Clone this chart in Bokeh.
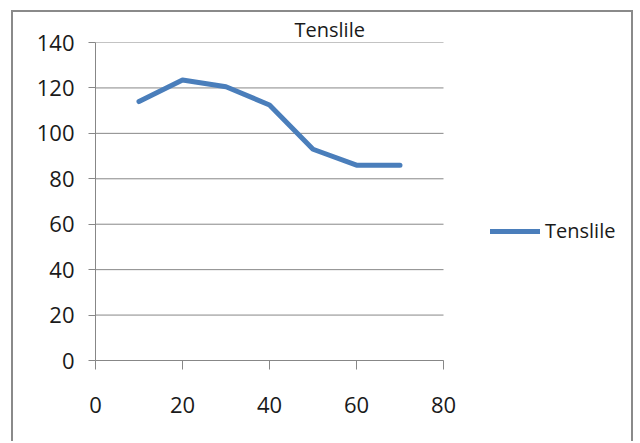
from bokeh.plotting import figure
from bokeh.models import Range1d, FixedTicker, Legend, LegendItem, Title
from bokeh.embed import file_html
from bokeh.resources import INLINE

# data
x_vals = [10, 20, 30, 40, 50, 60, 70]
tensile = [114, 123.5, 120.5, 112.5, 93, 86, 86]
series_name = "Tenslile"
chart_title = "Tenslile"
x_ticks = [0, 20, 40, 60, 80]
y_ticks = [0, 20, 40, 60, 80, 100, 120, 140]

FONT = "Open Sans"
GRAY = "#878787"
BORDER = "2px solid #8a8a8a"

# layout geometry (pixels)
FRAME_LEFT = 82
FRAME_W = 540          # frame runs to the right border; plot area proper is 348 px wide
AXIS_W = 348
x_max = x_ticks[-1] * FRAME_W / AXIS_W

p = figure(width=622, height=431, output_backend="svg", toolbar_location=None,
           x_range=Range1d(0, x_max), y_range=Range1d(y_ticks[0], y_ticks[-1]),
           min_border_left=FRAME_LEFT, min_border_right=0, min_border_top=30, min_border_bottom=83)
p.styles = {"border-top": BORDER, "border-left": BORDER, "border-right": BORDER,
            "margin-left": "11px", "margin-top": "10px"}
p.outline_line_color = None
p.background_fill_color = "white"
p.border_fill_color = "white"

t = Title(text=chart_title, align="left", offset=199, text_font=FONT,
          text_font_size="20px", text_font_style="normal", text_color="#1a1a1a", standoff=0)
p.add_layout(t, "above")

# horizontal gridlines over the axis extent only
p.segment(x0=x_ticks[0], x1=x_ticks[-1], y0=y_ticks, y1=y_ticks, line_color=GRAY, line_width=1)

r = p.line(x_vals, tensile, line_color="#4a7ebb", line_width=5, line_cap="round", line_join="round")

p.xaxis.ticker = FixedTicker(ticks=x_ticks)
p.yaxis.ticker = FixedTicker(ticks=y_ticks)
p.xaxis.bounds = (x_ticks[0], x_ticks[-1])
for ax in (p.xaxis[0], p.yaxis[0]):
    ax.axis_line_color = GRAY
    ax.major_tick_line_color = GRAY
    ax.minor_tick_line_color = None
    ax.major_tick_in = 0
    ax.major_label_text_font = FONT
    ax.major_label_text_font_size = "22px"
    ax.major_label_text_color = "#1a1a1a"
p.xaxis.major_tick_out = 9
p.yaxis.major_tick_out = 7
p.xaxis.major_label_standoff = 27
p.yaxis.major_label_standoff = 14

p.xgrid.visible = False
p.ygrid.visible = False

legend = Legend(items=[LegendItem(label=series_name, renderers=[r])],
                location=(395, 116), padding=0, margin=0, spacing=0,
                glyph_width=50, glyph_height=22, label_height=22, label_standoff=5,
                label_text_font=FONT, label_text_font_size="20px", label_text_color="#1a1a1a",
                border_line_color=None, background_fill_alpha=0)
p.add_layout(legend, "center")

open("out.html", "w").write(file_html(p, INLINE))
